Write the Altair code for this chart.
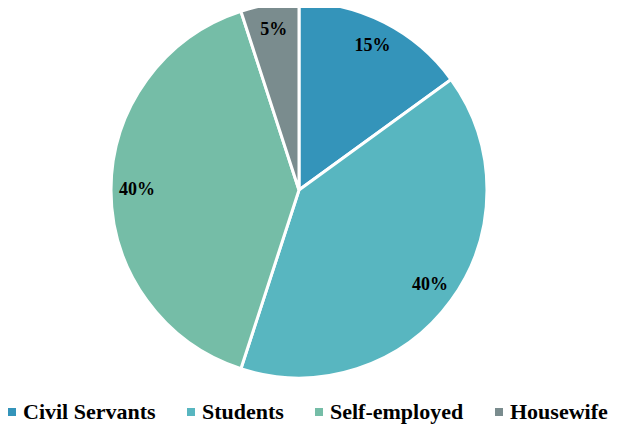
import altair as alt
import pandas as pd

categories = ["Civil Servants", "Students", "Self-employed", "Housewife"]
values = [15, 40, 40, 5]
labels = ["15%", "40%", "40%", "5%"]
colors = ["#3494BA", "#58B6C0", "#75BDA7", "#7A8C8E"]

df = pd.DataFrame({
    "category": categories,
    "value": values,
    "label": labels,
    "order": list(range(len(categories))),
})

cx, cy = 291, 182

base = alt.Chart(df).encode(
    theta=alt.Theta("value:Q", stack=True),
    order=alt.Order("order:Q"),
)

color = alt.Color(
    "category:N",
    sort=categories,
    scale=alt.Scale(domain=categories, range=colors),
    legend=alt.Legend(
        title=None,
        orient="none",
        legendX=-7,
        legendY=393,
        padding=0,
        direction="horizontal",
        columns=4,
        symbolType="square",
        symbolSize=64,
        symbolStrokeWidth=0,
        labelOffset=0,
        columnPadding=24,
        labelFont="Liberation Serif",
        labelFontWeight="bold",
        labelFontSize=22,
        labelColor="black",
        labelLimit=400,
    ),
)

arc = base.mark_arc(outerRadius=188, stroke="white", strokeWidth=3).encode(
    color=color, x=alt.value(cx), y=alt.value(cy)
)

text = base.mark_text(
    radius=162, font="Liberation Serif", fontWeight="bold", fontSize=18, color="black"
).encode(text="label:N", x=alt.value(cx), y=alt.value(cy))

chart = (arc + text).properties(
    width=602,
    height=416,
    padding=0,
    autosize=alt.AutoSizeParams(type="none"),
).configure_view(stroke=None)

chart.save("out.html", embed_options={"renderer": "svg", "actions": False})
